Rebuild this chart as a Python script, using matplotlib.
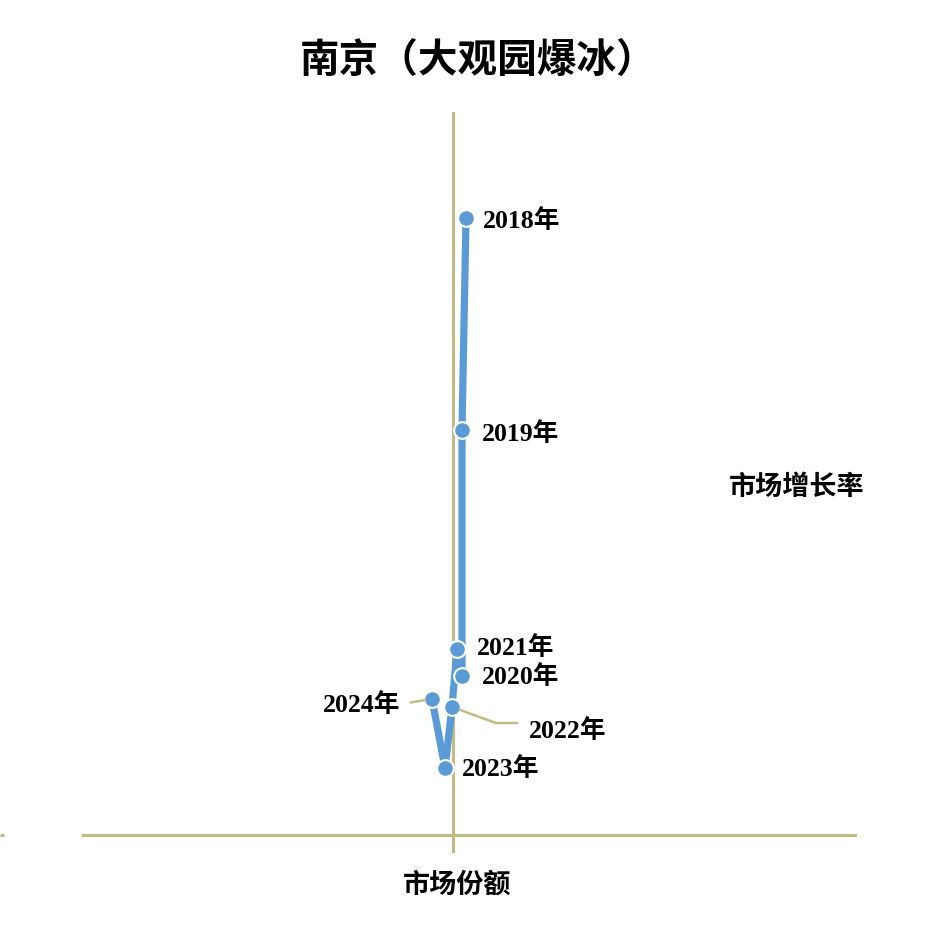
import matplotlib.pyplot as plt

# --- data (market share vs growth rate) ---
years = ['2018年', '2019年', '2020年', '2021年', '2022年', '2023年', '2024年']
share = [0.13, 0.09, 0.09, 0.04, -0.01, -0.08, -0.21]
growth = [6.17, 4.05, 1.59, 1.86, 1.28, 0.67, 1.36]

# label offsets in points (dx, dy, ha)
label_offsets = {
    '2018年': (12, -2, 'left'),
    '2019年': (14, -3, 'left'),
    '2020年': (14, -1, 'left'),
    '2021年': (14, 1, 'left'),
    '2022年': (55, -17, 'left'),
    '2023年': (12, -1, 'left'),
    '2024年': (-23, -4, 'right'),
}

axis_color = '#C2BB82'
line_color = '#5B9BD5'
cjk = ['Noto Sans CJK SC', 'DejaVu Sans']
label_font = ['Liberation Serif', 'Noto Sans CJK SC']

fig = plt.figure(figsize=(9.3, 9.33), dpi=100)
ax = fig.add_axes([0, 0, 1, 1])
ax.set_xlim(-4.53, 4.77)
ax.set_ylim(-0.98, 8.35)

for s in ['top', 'right']:
    ax.spines[s].set_visible(False)
ax.spines['left'].set_position(('data', 0))
ax.spines['bottom'].set_position(('data', 0))
ax.spines['left'].set_bounds(-0.16, 7.22)
ax.spines['bottom'].set_bounds(-3.70, 4.02)
for s in ['left', 'bottom']:
    ax.spines[s].set_color(axis_color)
    ax.spines[s].set_linewidth(2.2)
ax.set_xticks([])
ax.set_yticks([])
ax.axhline(0, xmin=0, xmax=0.004, color=axis_color, lw=2.2, solid_capstyle='butt')

ax.plot(share, growth, color=line_color, lw=5.2, solid_capstyle='round',
        marker='o', markersize=12, markerfacecolor=line_color,
        markeredgecolor='white', markeredgewidth=1.5, zorder=3)

for name, x, y in zip(years, share, growth):
    dx, dy, ha = label_offsets[name]
    ax.annotate(name, xy=(x, y), xytext=(dx, dy), textcoords='offset points',
                ha=ha, va='center', fontsize=18.5, fontweight='bold',
                family=label_font, zorder=4)

# leader lines for the two labels placed away from their points
i22 = years.index('2022年')
ax.annotate('', xy=(share[i22], growth[i22]), xytext=(47, -11.5),
            textcoords='offset points',
            arrowprops=dict(arrowstyle='-', color=axis_color, lw=1.8,
                            connectionstyle='angle,angleA=0,angleB=-20',
                            shrinkA=0, shrinkB=6))
i24 = years.index('2024年')
ax.annotate('', xy=(share[i24], growth[i24]), xytext=(-15.5, -2.5),
            textcoords='offset points',
            arrowprops=dict(arrowstyle='-', color=axis_color, lw=1.8,
                            shrinkA=0, shrinkB=5))

fig.text(0.514, 1 - 60 / 933, '南京（大观园爆冰）', ha='center', va='center',
         fontsize=28.5, fontweight='bold', family=cjk)
fig.text(457 / 930, 1 - 885 / 933, '市场份额', ha='center', va='center',
         fontsize=19.5, fontweight='bold', family=cjk)
fig.text(797 / 930, 1 - 487 / 933, '市场增长率', ha='center', va='center',
         fontsize=19.5, fontweight='bold', family=cjk)

fig.savefig('out.png', dpi=100)
